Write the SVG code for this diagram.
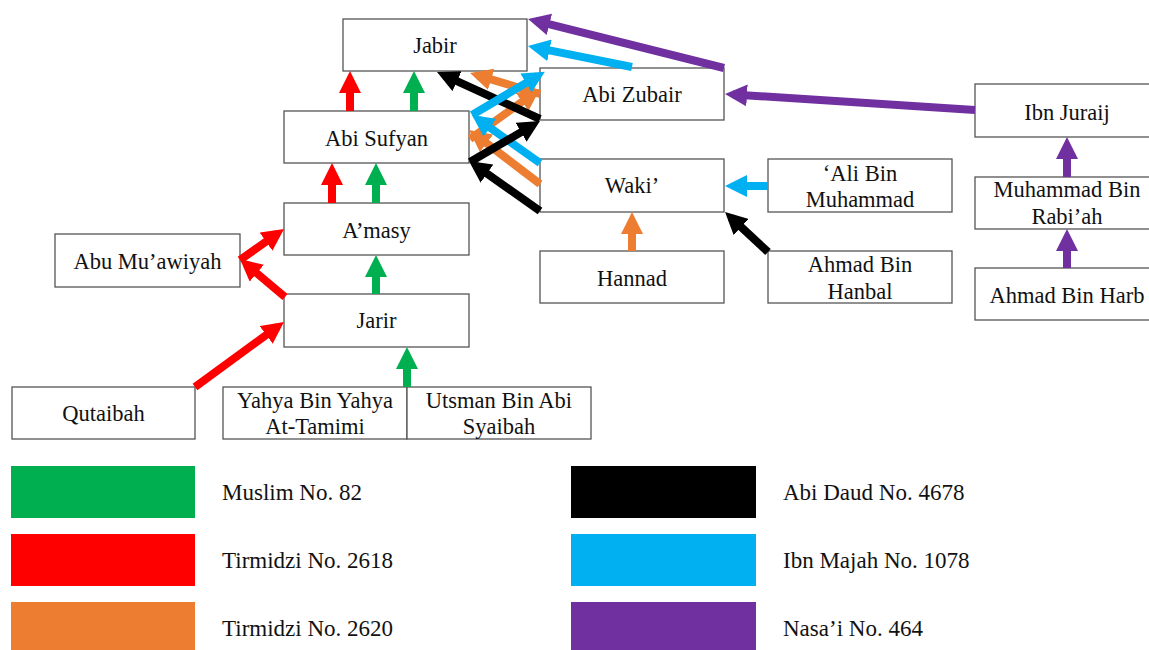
<svg xmlns="http://www.w3.org/2000/svg" width="1149" height="650" viewBox="0 0 1149 650">
<style>
.box{fill:#fff;stroke:#555;stroke-width:1.3}
.t{font-family:'Liberation Serif','Times New Roman',serif;font-size:22.5px;fill:#111}
.l{font-size:23px}
.c{text-anchor:middle}
.a{fill:none;stroke-width:8}
.g{stroke:#00b050;marker-end:url(#mg)}
.r{stroke:#ff0000;marker-end:url(#mr)}
.o{stroke:#ed7d31;marker-end:url(#mo)}
.k{stroke:#000;marker-end:url(#mk)}
.b{stroke:#00b0f0;marker-end:url(#mb)}
.p{stroke:#7030a0;marker-end:url(#mp)}
</style>
<defs>
<marker id="mg" viewBox="0 0 22 22" refX="14" refY="11" markerWidth="22" markerHeight="22" markerUnits="userSpaceOnUse" orient="auto"><path d="M0,0 L22,11 L0,22 z" fill="#00b050"/></marker>
<marker id="mr" viewBox="0 0 22 22" refX="14" refY="11" markerWidth="22" markerHeight="22" markerUnits="userSpaceOnUse" orient="auto"><path d="M0,0 L22,11 L0,22 z" fill="#ff0000"/></marker>
<marker id="mo" viewBox="0 0 22 22" refX="14" refY="11" markerWidth="22" markerHeight="22" markerUnits="userSpaceOnUse" orient="auto"><path d="M0,0 L22,11 L0,22 z" fill="#ed7d31"/></marker>
<marker id="mk" viewBox="0 0 22 22" refX="14" refY="11" markerWidth="22" markerHeight="22" markerUnits="userSpaceOnUse" orient="auto"><path d="M0,0 L22,11 L0,22 z" fill="#000"/></marker>
<marker id="mb" viewBox="0 0 22 22" refX="14" refY="11" markerWidth="22" markerHeight="22" markerUnits="userSpaceOnUse" orient="auto"><path d="M0,0 L22,11 L0,22 z" fill="#00b0f0"/></marker>
<marker id="mp" viewBox="0 0 22 22" refX="14" refY="11" markerWidth="22" markerHeight="22" markerUnits="userSpaceOnUse" orient="auto"><path d="M0,0 L22,11 L0,22 z" fill="#7030a0"/></marker>
</defs>
<rect width="1149" height="650" fill="#fff"/>

<g id="nodes" class="t">
<g id="jabir"><rect class="box" x="343" y="19" width="184" height="52"/><text class="c" x="435" y="53">Jabir</text></g>
<g id="abi-zubair"><rect class="box" x="540" y="68" width="184" height="52"/><text class="c" x="632" y="102">Abi Zubair</text></g>
<g id="abi-sufyan"><rect class="box" x="284" y="111" width="185" height="52"/><text class="c" x="376.5" y="146">Abi Sufyan</text></g>
<g id="waki"><rect class="box" x="540" y="159" width="184" height="53"/><text class="c" x="632" y="193">Waki’</text></g>
<g id="amasy"><rect class="box" x="284" y="203" width="185" height="52"/><text class="c" x="376.5" y="238">A’masy</text></g>
<g id="abu-muawiyah"><rect class="box" x="55" y="234" width="185" height="53"/><text class="c" x="147.5" y="269">Abu Mu’awiyah</text></g>
<g id="jarir"><rect class="box" x="284" y="294" width="185" height="53"/><text class="c" x="376.5" y="328">Jarir</text></g>
<g id="qutaibah"><rect class="box" x="12" y="387" width="183" height="52"/><text class="c" x="103.5" y="421">Qutaibah</text></g>
<g id="yahya"><rect class="box" x="223" y="387" width="184" height="52"/><text class="c" x="315" y="408">Yahya Bin Yahya</text><text class="c" x="315" y="434">At-Tamimi</text></g>
<g id="utsman"><rect class="box" x="407" y="387" width="184" height="52"/><text class="c" x="499" y="408">Utsman Bin Abi</text><text class="c" x="499" y="434">Syaibah</text></g>
<g id="hannad"><rect class="box" x="540" y="251" width="184" height="52"/><text class="c" x="632" y="286">Hannad</text></g>
<g id="ali-bin-muhammad"><rect class="box" x="768" y="159" width="184" height="53"/><text class="c" x="860" y="181">‘Ali Bin</text><text class="c" x="860" y="207">Muhammad</text></g>
<g id="ahmad-bin-hanbal"><rect class="box" x="768" y="251" width="184" height="52"/><text class="c" x="860" y="272">Ahmad Bin</text><text class="c" x="860" y="299">Hanbal</text></g>
<g id="ibn-juraij"><rect class="box" x="975" y="84" width="184" height="53"/><text class="c" x="1067" y="120">Ibn Juraij</text></g>
<g id="muhammad-bin-rabiah"><rect class="box" x="975" y="177" width="184" height="52"/><text class="c" x="1067" y="197">Muhammad Bin</text><text class="c" x="1067" y="224">Rabi’ah</text></g>
<g id="ahmad-bin-harb"><rect class="box" x="975" y="268" width="184" height="52"/><text class="c" x="1067" y="303">Ahmad Bin Harb</text></g>
</g>

<g id="connectors">
<line class="a r" x1="350" y1="111" x2="350" y2="79"/>
<line class="a g" x1="414" y1="111" x2="414" y2="79"/>
<line class="a r" x1="332" y1="203" x2="332" y2="171"/>
<line class="a g" x1="376" y1="203" x2="376" y2="171"/>
<line class="a g" x1="376" y1="294" x2="376" y2="263"/>
<line class="a g" x1="407" y1="387" x2="407" y2="355"/>
<line class="a r" x1="285" y1="297" x2="246.1" y2="264.2"/>
<line class="a r" x1="240" y1="260" x2="277.5" y2="233.6"/>
<line class="a r" x1="195" y1="387" x2="277.5" y2="326.7"/>
<line class="a o" x1="632" y1="251" x2="632" y2="220"/>
<line class="a b" x1="768" y1="186" x2="733" y2="186"/>
<line class="a k" x1="768" y1="252" x2="730.9" y2="217.5"/>
<line class="a p" x1="1067" y1="177" x2="1067" y2="145"/>
<line class="a p" x1="1067" y1="268" x2="1067" y2="237"/>
<line class="a p" x1="975" y1="110" x2="733" y2="94.5"/>
<line class="a p" x1="724" y1="68" x2="535.8" y2="20.9"/>
<line class="a b" x1="632" y1="67" x2="535.8" y2="47.6"/>
<line class="a o" x1="540" y1="184" x2="475.4" y2="134.8"/>
<line class="a o" x1="540" y1="94" x2="477.7" y2="75.3"/>
<line class="a o" x1="470" y1="139" x2="533.5" y2="93.6"/>
<line class="a b" x1="540" y1="163" x2="478.5" y2="119.6"/>
<line class="a k" x1="540" y1="211" x2="475.5" y2="165.6"/>
<line class="a k" x1="470" y1="162" x2="533.1" y2="125.1"/>
<line class="a k" x1="540" y1="119" x2="444.3" y2="75.3"/>
<line class="a b" x1="472" y1="115" x2="538" y2="75.9"/>
</g>

<g id="legend" class="t l">
<rect x="11" y="466" width="184" height="52" fill="#00b050"/>
<rect x="11" y="534" width="184" height="52" fill="#ff0000"/>
<rect x="11" y="602" width="184" height="48" fill="#ed7d31"/>
<rect x="571" y="466" width="185" height="52" fill="#000"/>
<rect x="571" y="534" width="185" height="52" fill="#00b0f0"/>
<rect x="571" y="602" width="185" height="48" fill="#7030a0"/>
<text x="222" y="500">Muslim No. 82</text>
<text x="222" y="568">Tirmidzi No. 2618</text>
<text x="222" y="636">Tirmidzi No. 2620</text>
<text x="783" y="500">Abi Daud No. 4678</text>
<text x="783" y="568">Ibn Majah No. 1078</text>
<text x="783" y="636">Nasa’i No. 464</text>
</g>
</svg>
